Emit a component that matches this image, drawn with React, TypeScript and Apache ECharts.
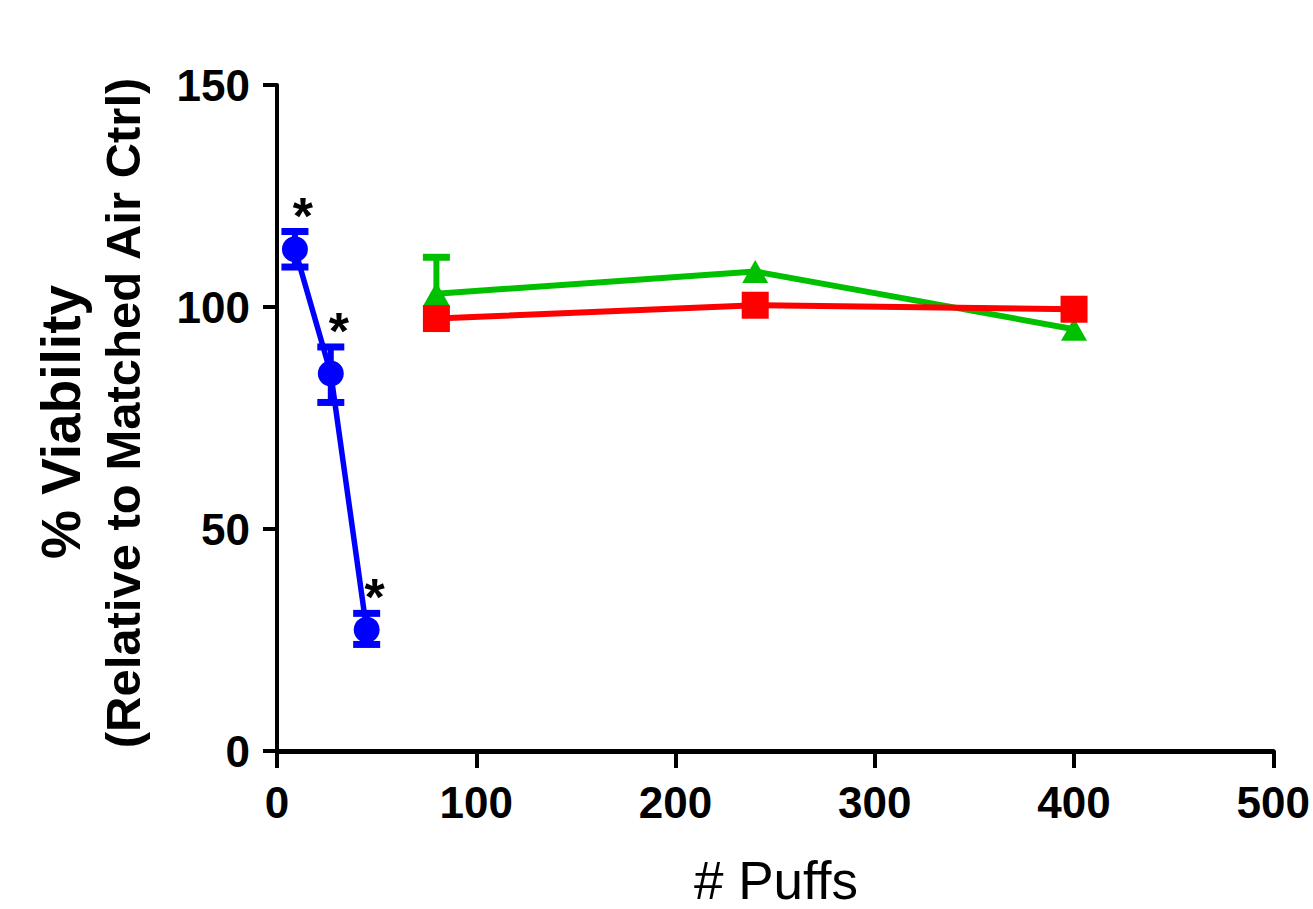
import React, { useEffect, useRef } from "react";
import * as echarts from "echarts";

// ---- Data ----
const blueX = [9, 27, 45];
const blueMean = [113, 85, 27.3];
const blueLow = [109, 78.5, 24];
const blueHigh = [117, 91, 31];
const blueSig = ["*", "*", "*"];

const greenX = [80, 240, 400];
const greenMean = [103, 108, 95];
const greenErrX = [80];
const greenErrHigh = [111.2];

const redX = [80, 240, 400];
const redMean = [97.4, 100.4, 99.5];

const xTicks = [0, 100, 200, 300, 400, 500];
const yTicks = [0, 50, 100, 150];

const xTitle = "# Puffs";
const yTitle1 = "% Viability";
const yTitle2 = "(Relative to Matched Air Ctrl)";

const FONT = "'Liberation Sans', Arial, Helvetica, sans-serif";
const BLUE = "#0000FF";
const GREEN = "#00C000";
const RED = "#FF0000";

function errorSeries(color: string, data: number[][], lowerCap: boolean) {
  return {
    type: "custom",
    z: 1,
    silent: true,
    data,
    renderItem: (params: any, api: any) => {
      const x = api.value(0);
      const lo = api.value(1);
      const hi = api.value(2);
      const pLo = api.coord([x, lo]);
      const pHi = api.coord([x, hi]);
      const half = 13.5;
      const style = { stroke: color, lineWidth: 6, fill: "none" };
      const capStyle = { stroke: color, lineWidth: 7, fill: "none" };
      const children: any[] = [
        { type: "line", shape: { x1: pLo[0], y1: pLo[1], x2: pHi[0], y2: pHi[1] }, style },
        { type: "line", shape: { x1: pHi[0] - half, y1: pHi[1], x2: pHi[0] + half, y2: pHi[1] }, style: capStyle },
      ];
      if (lowerCap) {
        children.push({ type: "line", shape: { x1: pLo[0] - half, y1: pLo[1], x2: pLo[0] + half, y2: pLo[1] }, style: capStyle });
      }
      return { type: "group", children };
    },
  };
}

export default function App() {
  const ref = useRef<HTMLDivElement>(null);
  useEffect(() => {
    if (!ref.current) return;
    const chart = echarts.init(ref.current, null, { renderer: "svg" });

    const blueData = blueX.map((x, i) => [x, blueMean[i]]);
    const greenData = greenX.map((x, i) => [x, greenMean[i]]);
    const redData = redX.map((x, i) => [x, redMean[i]]);
    const blueErr = blueX.map((x, i) => [x, blueLow[i], blueHigh[i]]);
    const greenErr = greenErrX.map((x, i) => [x, greenMean[greenX.indexOf(x)], greenErrHigh[i]]);
    const sigData = blueX.map((x, i) => [x, blueHigh[i], i]);

    const txt = (extra: any) => ({
      fontFamily: FONT,
      fill: "#000",
      align: "center",
      verticalAlign: "middle",
      textAlign: "center",
      textVerticalAlign: "middle",
      ...extra,
    });

    chart.setOption({
      animation: false,
      backgroundColor: "#ffffff",
      grid: { left: 277, right: 36, top: 85, bottom: 158, containLabel: false },
      xAxis: {
        type: "value",
        min: xTicks[0],
        max: xTicks[xTicks.length - 1],
        interval: 100,
        splitLine: { show: false },
        axisLine: { show: true, onZero: false, lineStyle: { color: "#000", width: 5 } },
        axisTick: { show: true, length: 17, lineStyle: { color: "#000", width: 4 } },
        axisLabel: { color: "#000", fontSize: 44, fontWeight: "bold", fontFamily: FONT, margin: 29 },
      },
      yAxis: {
        type: "value",
        min: yTicks[0],
        max: yTicks[yTicks.length - 1],
        interval: 50,
        splitLine: { show: false },
        axisLine: { show: true, onZero: false, lineStyle: { color: "#000", width: 4 } },
        axisTick: { show: true, length: 14, lineStyle: { color: "#000", width: 4 } },
        axisLabel: { color: "#000", fontSize: 44, fontWeight: "bold", fontFamily: FONT, margin: 27 },
      },
      graphic: [
        {
          type: "text",
          x: 776,
          y: 880,
          style: txt({ text: xTitle, fontSize: 53, lineHeight: 46 }),
        },
        {
          type: "text",
          x: 61,
          y: 422,
          rotation: Math.PI / 2,
          style: txt({ text: yTitle1, fontSize: 55, fontWeight: "bold" }),
        },
        {
          type: "text",
          x: 123,
          y: 413,
          rotation: Math.PI / 2,
          style: txt({ text: yTitle2, fontSize: 49, fontWeight: "bold" }),
        },
      ],
      series: [
        errorSeries(BLUE, blueErr, true),
        errorSeries(GREEN, greenErr, false),
        {
          type: "line",
          name: "blue",
          data: blueData,
          z: 3,
          symbol: "circle",
          symbolSize: 26,
          lineStyle: { color: BLUE, width: 5.5 },
          itemStyle: { color: BLUE },
        },
        {
          type: "line",
          name: "green",
          data: greenData,
          z: 3,
          symbol: "triangle",
          symbolSize: [26, 23],
          lineStyle: { color: GREEN, width: 6 },
          itemStyle: { color: GREEN },
        },
        {
          type: "line",
          name: "red",
          data: redData,
          z: 4,
          symbol: "rect",
          symbolSize: 27,
          lineStyle: { color: RED, width: 6 },
          itemStyle: { color: RED },
        },
        {
          type: "custom",
          z: 5,
          silent: true,
          data: sigData,
          renderItem: (params: any, api: any) => {
            const idx = api.value(2);
            const p = api.coord([api.value(0), api.value(1)]);
            return {
              type: "text",
              x: p[0] + 8,
              y: p[1] - 16,
              style: txt({ text: blueSig[idx], fontSize: 52, fontWeight: "bold" }),
            };
          },
        },
      ],
    });
    return () => chart.dispose();
  }, []);
  return <div ref={ref} style={{ position: "fixed", left: 0, top: 0, width: 1313, height: 909 }} />;
}
